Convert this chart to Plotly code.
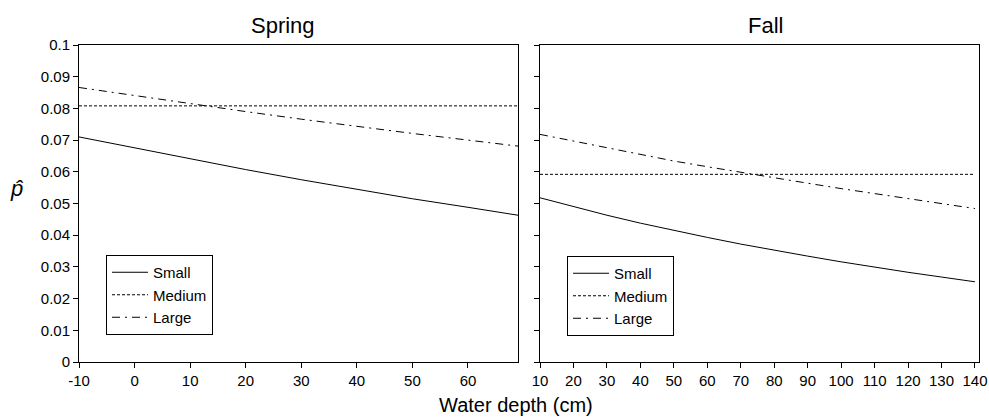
import plotly.graph_objects as go

# ---- data ----
spring_depth = [-10, 0, 10, 20, 30, 40, 50, 60, 69]
spring_small = [0.0710, 0.0675, 0.0641, 0.0607, 0.0575, 0.0545, 0.0515, 0.0488, 0.0463]
spring_medium = [0.0808, 0.0808, 0.0808, 0.0808, 0.0808, 0.0808, 0.0808, 0.0808, 0.0808]
spring_large = [0.0866, 0.0840, 0.0814, 0.0790, 0.0766, 0.0743, 0.0721, 0.0700, 0.0681]

fall_depth = [10, 20, 30, 40, 50, 60, 70, 80, 90, 100, 110, 120, 130, 140]
fall_small = [0.0518, 0.0490, 0.0463, 0.0438, 0.0415, 0.0393, 0.0372, 0.0352,
              0.0334, 0.0316, 0.0299, 0.0283, 0.0268, 0.0253]
fall_medium = [0.0592] * 14
fall_large = [0.0718, 0.0697, 0.0676, 0.0656, 0.0634, 0.0616, 0.0598, 0.0581,
              0.0564, 0.0547, 0.0531, 0.0515, 0.0499, 0.0484]

series_names = ["Small", "Medium", "Large"]
y_tickvals = [0, 0.01, 0.02, 0.03, 0.04, 0.05, 0.06, 0.07, 0.08, 0.09, 0.1]
y_ticktext = ["0", "0.01", "0.02", "0.03", "0.04", "0.05", "0.06", "0.07", "0.08", "0.09", "0.1"]
spring_xticks = [-10, 0, 10, 20, 30, 40, 50, 60]
spring_xticktext = ["-10", "0", "10", "20", "30", "40", "50", "60"]
fall_xticks = [10, 20, 30, 40, 50, 60, 70, 80, 90, 100, 110, 120, 130, 140]

W, H = 989, 418
FONT = "Liberation Sans, Arial, sans-serif"
dashes = ["solid", "3px,2px", "8px,5px,2px,5px"]

fig = go.Figure()
for name, ys, d in zip(series_names, [spring_small, spring_medium, spring_large], dashes):
    fig.add_trace(go.Scatter(x=spring_depth, y=ys, mode="lines", name=name,
                             line=dict(color="black", width=1, dash=d),
                             xaxis="x", yaxis="y", legend="legend"))
for name, ys, d in zip(series_names, [fall_small, fall_medium, fall_large], dashes):
    fig.add_trace(go.Scatter(x=fall_depth, y=ys, mode="lines", name=name,
                             line=dict(color="black", width=1, dash=d),
                             xaxis="x2", yaxis="y2", legend="legend2"))

px = lambda p: p / W
py = lambda p: 1 - p / H

axis_common = dict(showline=True, linecolor="black", linewidth=1, mirror=True,
                   ticks="outside", ticklen=5, tickcolor="black", tickwidth=1,
                   showgrid=False, zeroline=False, automargin=False,
                   tickfont=dict(family=FONT, size=15, color="black"))

legend_common = dict(xanchor="left", yanchor="top",
                     bordercolor="black", borderwidth=1, bgcolor="white",
                     font=dict(family=FONT, size=15, color="black"),
                     tracegroupgap=0, itemwidth=36)

fig.update_layout(
    width=W, height=H,
    margin=dict(l=0, r=0, t=0, b=0),
    paper_bgcolor="white", plot_bgcolor="white",
    font=dict(family=FONT, color="black"),
    xaxis=dict(domain=[px(79), px(518)], range=[-10, 69], tickvals=spring_xticks,
               ticktext=spring_xticktext, anchor="y", **axis_common),
    yaxis=dict(domain=[py(362), py(45)], range=[0, 0.1], tickvals=y_tickvals,
               ticktext=y_ticktext, anchor="x", **axis_common),
    xaxis2=dict(domain=[px(540), px(979)], range=[10, 141.2], tickvals=fall_xticks,
                anchor="y2", **axis_common),
    yaxis2=dict(domain=[py(362), py(45)], range=[0, 0.1], tickvals=y_tickvals,
                showticklabels=False, anchor="x2", **axis_common),
    legend=dict(x=px(106), y=py(255), **legend_common),
    legend2=dict(x=px(567), y=py(256), **legend_common),
    showlegend=True,
    annotations=[
        dict(text="Spring", x=px(283), y=py(25), xref="paper", yref="paper",
             xanchor="center", yanchor="middle", showarrow=False,
             font=dict(family=FONT, size=22, color="black")),
        dict(text="Fall", x=px(765), y=py(25), xref="paper", yref="paper",
             xanchor="center", yanchor="middle", showarrow=False,
             font=dict(family=FONT, size=22, color="black")),
        dict(text="Water depth (cm)", x=px(516), y=py(405), xref="paper", yref="paper",
             xanchor="center", yanchor="middle", showarrow=False,
             font=dict(family=FONT, size=20, color="black")),
        dict(text="<i>p\u0302</i>", x=px(16), y=py(188), xref="paper", yref="paper",
             xanchor="center", yanchor="middle", showarrow=False,
             font=dict(family=FONT, size=22, color="black")),
    ],
)

fig.write_html(
    "out.html",
    config={"displayModeBar": False},
    post_script="document.body.style.margin='0';document.body.style.overflow='hidden';",
)
